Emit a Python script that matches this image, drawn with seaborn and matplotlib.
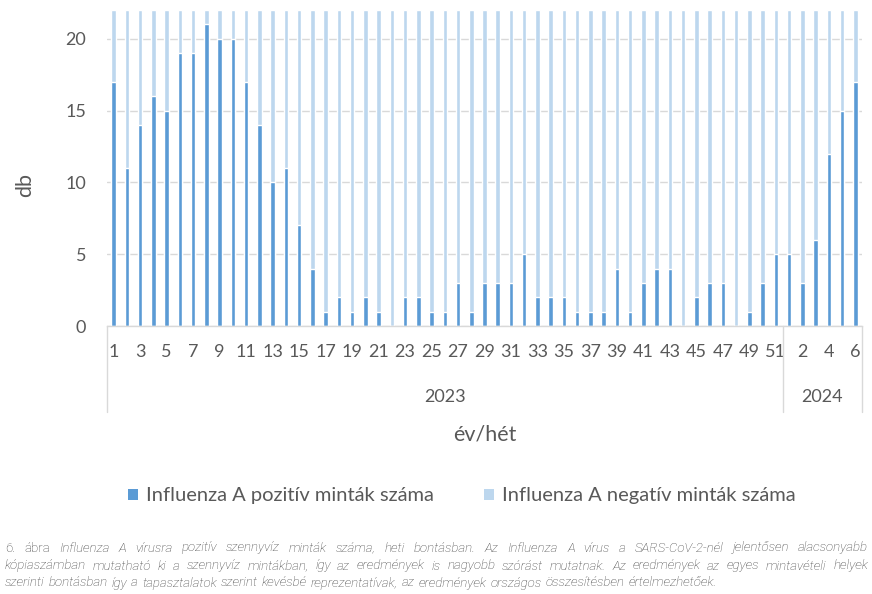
import matplotlib
matplotlib.use("Agg")
import matplotlib.pyplot as plt
import matplotlib.transforms as mtransforms
from matplotlib.patches import Patch
import numpy as np
import pandas as pd
import seaborn as sns

# ---------------- data ----------------
years = ["2023"] * 51 + ["2024"] * 6
weeks = list(range(1, 52)) + list(range(1, 7))
positive = [17, 11, 14, 16, 15, 19, 19, 21, 20, 20,
            17, 14, 10, 11, 7, 4, 1, 2, 1, 2,
            1, 0, 2, 2, 1, 1, 3, 1, 3, 3,
            3, 5, 2, 2, 2, 1, 1, 1, 4, 1,
            3, 4, 4, 0, 2, 3, 3, 0, 1, 3,
            5,
            5, 3, 6, 12, 15, 17]
negative = [5, 11, 8, 6, 7, 3, 3, 1, 2, 2,
            5, 8, 12, 11, 15, 18, 21, 20, 21, 20,
            21, 22, 20, 20, 21, 21, 19, 21, 19, 19,
            19, 17, 20, 20, 20, 21, 21, 21, 18, 21,
            19, 18, 18, 22, 20, 19, 19, 22, 21, 19,
            17,
            17, 19, 16, 10, 7, 5]
series_labels = ["Influenza A pozitív minták száma", "Influenza A negatív minták száma"]
year_labels = ["2023", "2024"]
y_ticks = [0, 5, 10, 15, 20]
x_title = "év/hét"
y_title = "db"

DARK = "#5B9BD5"
LIGHT = "#BDD7EE"
TXT = "#595959"
GRID = "#D9D9D9"

df = pd.DataFrame({"year": years, "week": weeks, "pos": positive, "neg": negative})
df["cat"] = df["year"] + "/" + df["week"].astype(str)
df["total"] = df["pos"] + df["neg"]
order = list(df["cat"])

sns.set_style("white")
plt.rcParams["font.family"] = ["Lato", "DejaVu Sans"]

W, H = 872, 594
fig = plt.figure(figsize=(W / 100, H / 100), dpi=100)
ax_l, ax_r, ax_t, ax_b = 107, 862, 10, 326
ax = fig.add_axes([ax_l / W, 1 - ax_b / H, (ax_r - ax_l) / W, (ax_b - ax_t) / H])

sns.barplot(data=df, x="cat", y="total", order=order, color=LIGHT, saturation=1,
            width=0.34, ax=ax, errorbar=None)
sns.barplot(data=df, x="cat", y="pos", order=order, color=DARK, saturation=1,
            width=0.34, ax=ax, errorbar=None)

n = len(order)
ax.set_xlim(-0.5, n - 0.5)
ax.set_ylim(0, 22)
ax.set_yticks(y_ticks)
ax.set_yticklabels([str(v) for v in y_ticks])
tick_idx = list(range(0, n, 2))
ax.set_xticks(tick_idx)
ax.set_xticklabels([str(weeks[i]) for i in tick_idx])
ax.set_xlabel("")
ax.set_ylabel("")
ax.set_axisbelow(True)
ax.grid(axis="y", color=GRID, lw=1)
ax.grid(axis="x", visible=False)
for s in ["top", "right", "left"]:
    ax.spines[s].set_visible(False)
ax.spines["bottom"].set_color(GRID)
ax.spines["bottom"].set_linewidth(1)
ax.tick_params(axis="x", length=0, pad=13, labelsize=13, colors=TXT)
ax.tick_params(axis="y", length=0, pad=15, labelsize=13, colors=TXT)

# multi-level category axis: separators and year labels
trans = mtransforms.blended_transform_factory(ax.transData, ax.transAxes)
ax_h = ax_b - ax_t
sep_bottom = -(412 - ax_b) / ax_h
bounds = [-0.5]
for i in range(1, n):
    if years[i] != years[i - 1]:
        bounds.append(i - 0.5)
bounds.append(n - 0.5)
for b in bounds:
    ax.plot([b, b], [0, sep_bottom], transform=trans, color=GRID, lw=1, clip_on=False)
for k, yl in enumerate(year_labels):
    xc = (bounds[k] + bounds[k + 1]) / 2
    ax.text(xc, -(397 - ax_b) / ax_h, yl, transform=trans, ha="center", va="center",
            fontsize=13, color=TXT)

ax.text(0.5, -(434 - ax_b) / ax_h, x_title, transform=ax.transAxes, ha="center",
        va="center", fontsize=15.5, color=TXT)
fig.text(25 / W, 1 - 185 / H, y_title, rotation=90, ha="center", va="center",
         fontsize=15.5, color=TXT)

handles = [Patch(facecolor=DARK, edgecolor="none"), Patch(facecolor=LIGHT, edgecolor="none")]
fig.legend(handles, series_labels, loc="center", bbox_to_anchor=(462 / W, 1 - 496 / H),
           ncol=2, frameon=False, fontsize=14.5, handlelength=0.5, handleheight=0.5,
           handletextpad=0.4, columnspacing=2.5, labelcolor=TXT)

# ---------------- caption (justified) ----------------
CAP = "#404040"
cap_fs = 9.5
cap_lines = [
    ([("6.", "normal"), ("ábra", "normal")] +
     [(w, "italic") for w in "Influenza A vírusra pozitív szennyvíz minták száma, heti bontásban. Az Influenza A vírus a SARS-CoV-2-nél jelentősen alacsonyabb".split()],
     548, True),
    ([(w, "italic") for w in "kópiaszámban mutatható ki a szennyvíz mintákban, így az eredmények is nagyobb szórást mutatnak. Az eredmények az egyes mintavételi helyek".split()],
     566, True),
    ([(w, "italic") for w in "szerinti bontásban így a tapasztalatok szerint kevésbé reprezentatívak, az eredmények országos összesítésben értelmezhetőek.".split()],
     583, False),
]
cap_objs = []
for words, ypx, just in cap_lines:
    objs = []
    for w, st in words:
        t = fig.text(0, 1 - ypx / H, w, fontsize=cap_fs, style=st, color=CAP,
                     family=["Roboto", "DejaVu Sans"], fontweight="light",
                     ha="left", va="center")
        objs.append(t)
    cap_objs.append((objs, just))

fig.canvas.draw()
r = fig.canvas.get_renderer()
x0, x1 = 5, 868
nat_gap = cap_fs * 100 / 72 * 0.3
for objs, just in cap_objs:
    widths = [t.get_window_extent(r).width for t in objs]
    if just and len(objs) > 1:
        gap = (x1 - x0 - sum(widths)) / (len(objs) - 1)
    else:
        gap = nat_gap
    x = x0
    for t, wdt in zip(objs, widths):
        t.set_x(x / W)
        x += wdt + gap

fig.savefig("out.png", dpi=100)
